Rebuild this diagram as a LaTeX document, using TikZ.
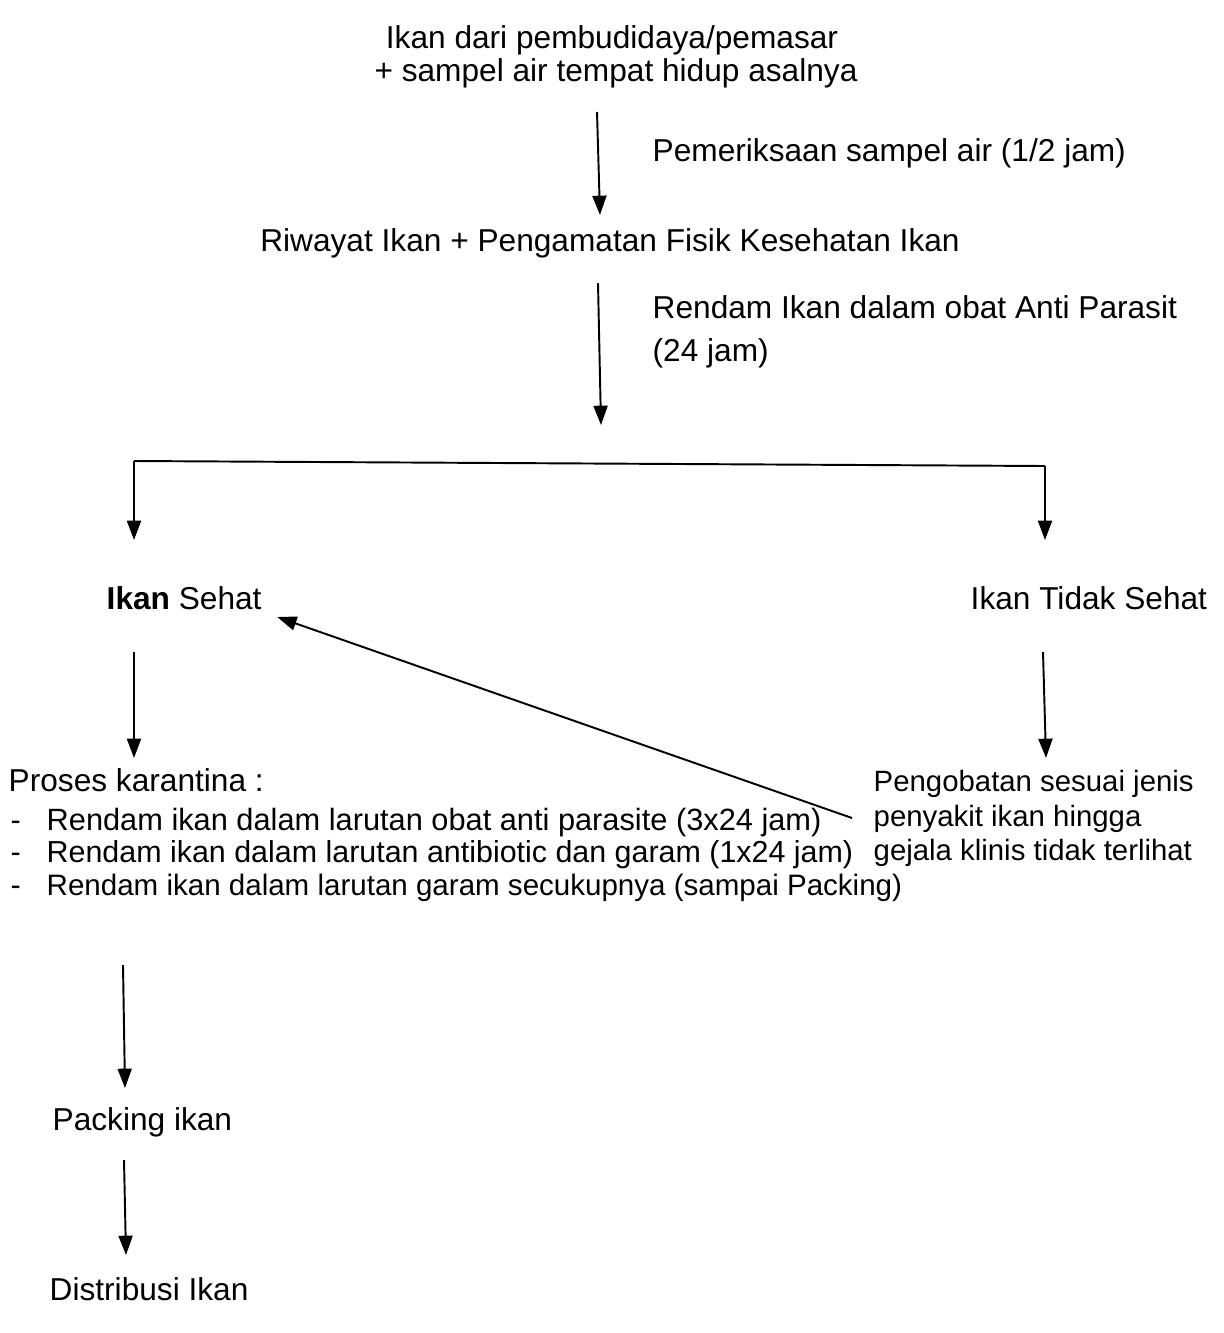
\documentclass[tikz,border=0pt]{standalone}
\usepackage{fontspec}
\setmainfont{Liberation Sans}
\usetikzlibrary{arrows.meta,positioning,calc}

\begin{document}
\begin{tikzpicture}[x=0.01cm,y=-0.01cm,
    txt/.style={inner sep=0pt,text height=0.72em,text depth=0.21em,font=\fontsize{9}{10.5}\selectfont},
    listtxt/.style={txt,font=\fontsize{#1}{10.5}\selectfont},
    sidetxt/.style={txt,font=\fontsize{8.35}{10}\selectfont},
    arr/.style={-{Triangle[width=4pt,length=5.5pt]},line width=0.55pt}]
    \useasboundingbox (0,0) rectangle (1223,1333);

    % Start
    \node[txt] (asal1) at (612,40) {Ikan dari pembudidaya/pemasar};
    \node[txt] (asal2) at (616,73) {+ sampel air tempat hidup asalnya};
    \coordinate (a1s) at (597,112);
    \coordinate (a1e) at (600,215);
    \draw[arr] (a1s) -- (a1e);
    \node[txt,anchor=west] (periksa) at (652,153) {Pemeriksaan sampel air (1/2 jam)};

    % Riwayat
    \node[txt] (riwayat) at (610,243) {Riwayat Ikan + Pengamatan Fisik Kesehatan Ikan};
    \coordinate (a2s) at (598,283);
    \coordinate (a2e) at (601,425);
    \draw[arr] (a2s) -- (a2e);
    \node[txt,anchor=west] (rendam1) at (652,310) {Rendam Ikan dalam obat Anti Parasit};
    \node[txt,anchor=west] (rendam2) at (652,353) {(24 jam)};

    % Branch
    \coordinate (bl) at (134,461);
    \coordinate (br) at (1045,466);
    \coordinate (blx) at (134,540);
    \coordinate (brx) at (1045,540);
    \draw[line width=0.55pt] (bl) -- (br);
    \draw[arr] (bl) -- (blx);
    \draw[arr] (br) -- (brx);

    \node[txt,anchor=west] (sehat) at (106,601) {\textbf{Ikan} Sehat};
    \node[txt,anchor=west] (tdksehat) at (970,601) {Ikan Tidak Sehat};

    % Left branch
    \coordinate (a3s) at (134,652);
    \coordinate (a3e) at (134,758);
    \draw[arr] (a3s) -- (a3e);
    \node[txt,anchor=west] (proses) at (8,783) {Proses karantina :};
    \node[listtxt=8.7,anchor=west] (d1) at (10,822) {-};
    \node[listtxt=8.75,anchor=west] (k1) at (46,822) {Rendam ikan dalam larutan obat anti parasite (3x24 jam)};
    \node[listtxt=8.7,anchor=west] (d2) at (10,854) {-};
    \node[listtxt=8.65,anchor=west] (k2) at (46,854) {Rendam ikan dalam larutan antibiotic dan garam (1x24 jam)};
    \node[listtxt=8.7,anchor=west] (d3) at (10,887) {-};
    \node[listtxt=8.4,anchor=west] (k3) at (46,887) {Rendam ikan dalam larutan garam secukupnya (sampai Packing)};

    % Right branch
    \coordinate (a4s) at (1043,652);
    \coordinate (a4e) at (1046,758);
    \draw[arr] (a4s) -- (a4e);
    \node[sidetxt,anchor=west] (obat1) at (873,783) {Pengobatan sesuai jenis};
    \node[sidetxt,anchor=west] (obat2) at (873,818) {penyakit ikan hingga};
    \node[sidetxt,anchor=west] (obat3) at (873,852) {gejala klinis tidak terlihat};
    \coordinate (back) at (852,818);
    \draw[arr] (back) -- ([xshift=0.15cm,yshift=-0.16cm]sehat.east);

    % End
    \coordinate (a5s) at (123,965);
    \coordinate (a5e) at (125,1088);
    \draw[arr] (a5s) -- (a5e);
    \node[txt,anchor=west] (packing) at (52,1122) {Packing ikan};
    \coordinate (a6s) at (124,1160);
    \coordinate (a6e) at (126,1255);
    \draw[arr] (a6s) -- (a6e);
    \node[txt,anchor=west] (distribusi) at (49,1292) {Distribusi Ikan};
\end{tikzpicture}
\end{document}
